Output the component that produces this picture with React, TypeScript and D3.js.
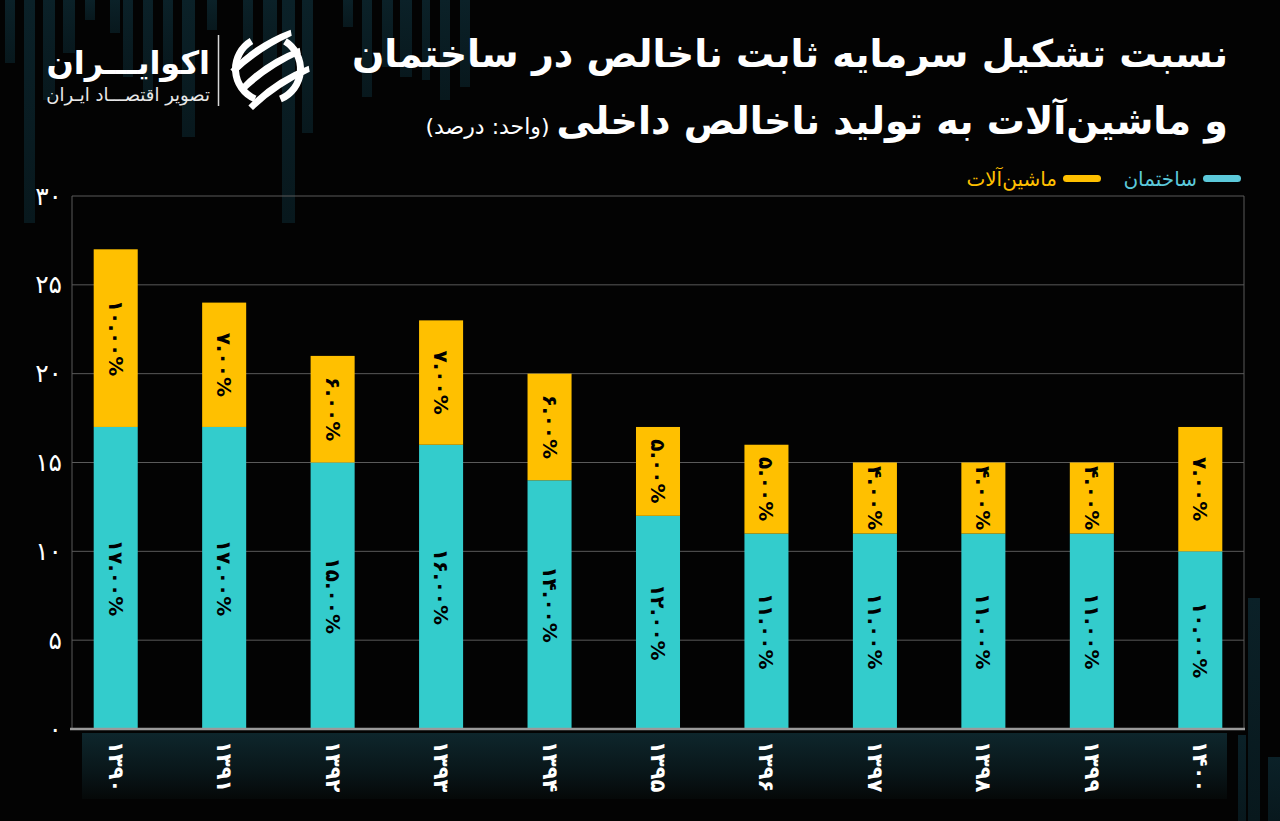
import React, { useEffect } from "react";
import * as d3 from "d3";

// ---------- data ----------
const years = ["1390", "1391", "1392", "1393", "1394", "1395", "1396", "1397", "1398", "1399", "1400"];
const construction = [17, 17, 15, 16, 14, 12, 11, 11, 11, 11, 10];
const machinery = [10, 7, 6, 7, 6, 5, 5, 4, 4, 4, 7];
const yTicks = [0, 5, 10, 15, 20, 25, 30];
const seriesNames = ["ساختمان", "ماشین‌آلات"];
const titleLine1 = "نسبت تشکیل سرمایه ثابت ناخالص در ساختمان";
const titleLine2 = "و ماشین‌آلات به تولید ناخالص داخلی";
const unitText = "(واحد: درصد)";
const brandName = "اکوایـــران";
const brandSub = "تصویر اقتصـــاد ایـران";

// ---------- decoration (background stripes) ----------
const decoBars: [number, number, number, number][] = [
  [5, 0, 10, 63], [24, 0, 11, 223], [43, 0, 12, 100], [63, 0, 12, 53], [85, 0, 10, 20],
  [110, 0, 10, 33], [123, 0, 10, 77], [143, 0, 10, 100], [163, 0, 10, 67], [182, 0, 13, 137],
  [207, 0, 10, 30], [243, 0, 10, 53], [263, 0, 14, 67], [282, 0, 13, 223], [302, 0, 11, 133],
  [343, 0, 10, 27], [362, 0, 10, 97], [382, 0, 11, 67], [400, 0, 12, 77], [422, 0, 8, 80],
  [440, 0, 10, 100], [460, 0, 10, 87],
  [1248, 598, 12, 223], [1268, 757, 12, 64], [1238, 735, 8, 86],
];

const COLORS = {
  bg: "#030303",
  teal: "#33CCCC",
  yellow: "#FFC000",
  legendTeal: "#5CC9DA",
  grid: "#5a5a5a",
  axis: "#9a9a9a",
};

const FONT = "'DejaVu Sans', 'Noto Sans', sans-serif";
const faDigits = "۰۱۲۳۴۵۶۷۸۹";
const toFa = (s: string) => s.replace(/[0-9]/g, (d) => faDigits[+d]);

export default function App() {
  useEffect(() => {
    document.body.style.margin = "0";
    document.body.style.background = COLORS.bg;
  }, []);

  const W = 1280;
  const H = 821;
  const x0 = 72;
  const x1 = 1244;
  const yBottom = 729;
  const yTop = 196;

  const x = d3.scaleBand<string>().domain(years).range([x0, x1]).paddingInner(0.594).paddingOuter(0.2);
  const y = d3.scaleLinear().domain([0, 30]).range([yBottom, yTop]);
  const fmt = d3.format(".2f");

  const ringArc = d3.arc<any>().innerRadius(29).outerRadius(36);

  return (
    <svg width={W} height={H} style={{ display: "block", background: COLORS.bg }} fontFamily={FONT}>
      <defs>
        <linearGradient id="decoGrad" x1="0" y1="0" x2="0" y2="1">
          <stop offset="0%" stopColor="#0b2128" />
          <stop offset="100%" stopColor="#08181d" />
        </linearGradient>
        <linearGradient id="stripGrad" x1="0" y1="0" x2="0" y2="1">
          <stop offset="0%" stopColor="#0e262c" />
          <stop offset="60%" stopColor="#091619" />
          <stop offset="100%" stopColor="#050808" />
        </linearGradient>
      </defs>
      <rect x={0} y={0} width={W} height={H} fill={COLORS.bg} />

      {/* background stripes */}
      {decoBars.map(([bx, by, bw, bh], i) => (
        <rect key={"d" + i} x={bx} y={by} width={bw} height={bh} fill="url(#decoGrad)" />
      ))}
      <rect x={82} y={733} width={1145} height={66} fill="url(#stripGrad)" />

      {/* logo */}
      <text x={210} y={74} textAnchor="end" fill="#fff" fontSize={32} fontWeight="bold">
        {brandName}
      </text>
      <text x={210} y={101} textAnchor="end" fill="#e8e8e8" fontSize={18}>
        {brandSub}
      </text>
      <line x1={218.5} x2={218.5} y1={35} y2={106} stroke="#d8d8d8" strokeWidth={1.5} />
      <g transform="translate(268,69)">
        <path d={ringArc({ startAngle: 3.55, endAngle: 5.75 }) as string} fill="#fff" />
        <path d={ringArc({ startAngle: 0.55, endAngle: 2.75 }) as string} fill="#fff" />
        {[-18, 0, 18].map((o, i) => (
          <path
            key={"s" + i}
            transform={`translate(${o * 0.5},${o}) rotate(-28)`}
            d="M-34,3 Q0,-9 38,-4 L36,2 Q0,0 -32,9 Z"
            fill="#fff"
          />
        ))}
      </g>

      {/* title */}
      <text x={1228} y={67} direction="rtl" textAnchor="start" fill="#fff" fontSize={38} fontWeight="bold">
        {titleLine1}
      </text>
      <text x={1228} y={134} direction="rtl" textAnchor="start" fill="#fff">
        <tspan fontSize={38} fontWeight="bold">{titleLine2}</tspan>
        <tspan fontSize={22} fontWeight="normal">{" " + unitText}</tspan>
      </text>

      {/* legend */}
      <rect x={1203} y={175} width={38} height={7} rx={3.5} fill={COLORS.legendTeal} />
      <text x={1197} y={179} dominantBaseline="central" textAnchor="end" fill={COLORS.legendTeal} fontSize={20}>
        {seriesNames[0]}
      </text>
      <rect x={1063} y={175} width={38} height={7} rx={3.5} fill={COLORS.yellow} />
      <text x={1057} y={179} dominantBaseline="central" textAnchor="end" fill={COLORS.yellow} fontSize={20}>
        {seriesNames[1]}
      </text>

      {/* grid */}
      {yTicks.slice(1).map((t) => (
        <line key={"g" + t} x1={x0} x2={x1} y1={y(t)} y2={y(t)} stroke={COLORS.grid} strokeWidth={1} />
      ))}
      <line x1={x0} x2={x0} y1={yTop} y2={yBottom} stroke={COLORS.grid} strokeWidth={1} />
      <line x1={x1} x2={x1} y1={yTop} y2={yBottom} stroke={COLORS.grid} strokeWidth={1} />

      {/* y tick labels */}
      {yTicks.map((t) => (
        <text key={"yl" + t} x={62} y={y(t)} textAnchor="end" dominantBaseline="central" fill="#fff" fontSize={25}>
          {toFa(String(t))}
        </text>
      ))}

      {/* bars */}
      {years.map((yr, i) => {
        const bx = x(yr)!;
        const bw = x.bandwidth();
        const c = construction[i];
        const m = machinery[i];
        const cx = bx + bw / 2;
        const cMid = (y(0) + y(c)) / 2;
        const mMid = (y(c) + y(c + m)) / 2;
        return (
          <g key={yr}>
            <rect x={bx} y={y(c)} width={bw} height={y(0) - y(c)} fill={COLORS.teal} />
            <rect x={bx} y={y(c + m)} width={bw} height={y(c) - y(c + m)} fill={COLORS.yellow} />
            <text
              transform={`translate(${cx},${cMid}) rotate(90)`}
              textAnchor="middle"
              dominantBaseline="central"
              direction="ltr"
              fill="#000"
              fontSize={20}
              fontWeight="bold"
            >
              {toFa(fmt(c)) + "%"}
            </text>
            <text
              transform={`translate(${cx},${mMid}) rotate(90)`}
              textAnchor="middle"
              dominantBaseline="central"
              direction="ltr"
              fill="#000"
              fontSize={20}
              fontWeight="bold"
            >
              {toFa(fmt(m)) + "%"}
            </text>
            <text
              transform={`translate(${cx},${741}) rotate(90)`}
              textAnchor="start"
              dominantBaseline="central"
              direction="ltr"
              fill="#fff"
              fontSize={21}
              fontWeight="bold"
            >
              {toFa(yr)}
            </text>
          </g>
        );
      })}

      {/* x axis */}
      <line x1={70} x2={x1 + 1} y1={yBottom} y2={yBottom} stroke={COLORS.axis} strokeWidth={2.5} />
    </svg>
  );
}
